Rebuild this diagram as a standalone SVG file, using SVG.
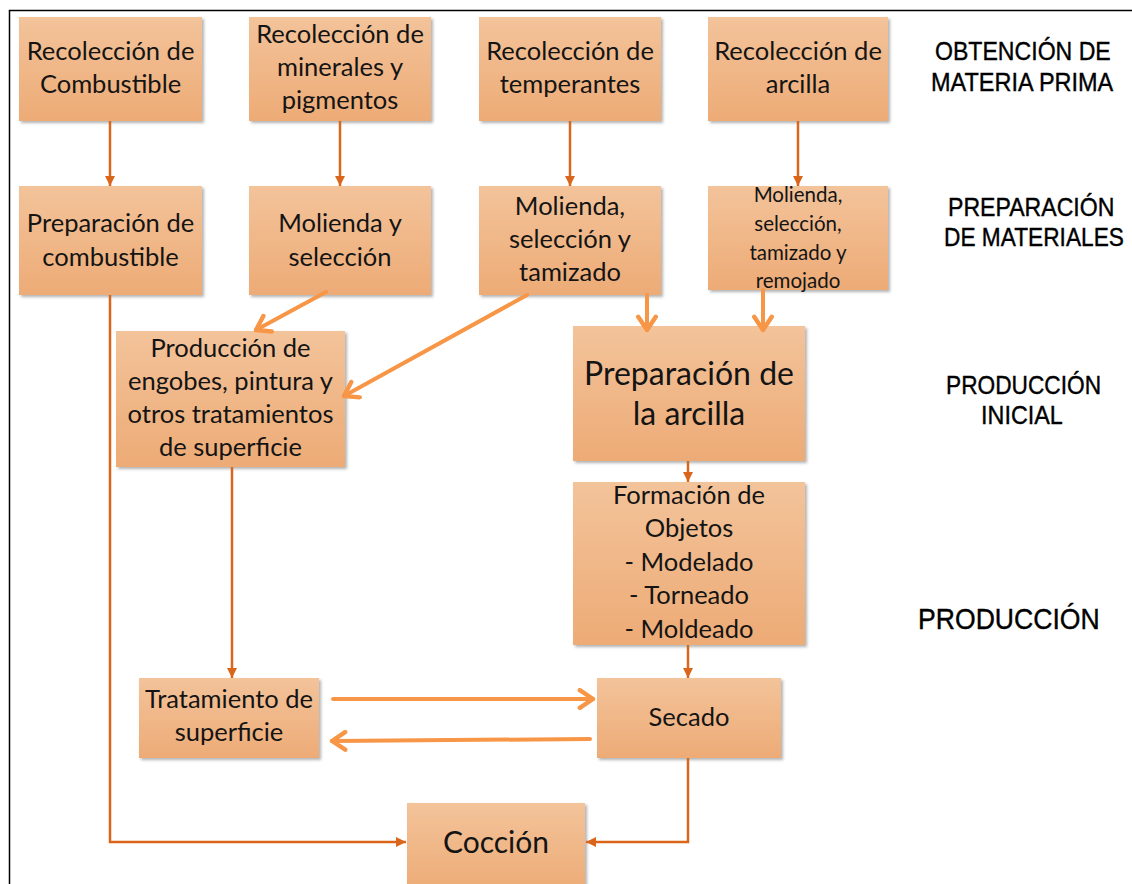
<svg xmlns="http://www.w3.org/2000/svg" width="1132" height="884" viewBox="0 0 1132 884">
<defs>
<linearGradient id="boxg" x1="0" y1="0" x2="0" y2="1">
<stop offset="0" stop-color="#F3C39A"/>
<stop offset="1" stop-color="#EDAB76"/>
</linearGradient>
<filter id="sh" x="-10%" y="-10%" width="125%" height="125%">
<feDropShadow dx="2" dy="2" stdDeviation="1.5" flood-color="#000" flood-opacity="0.3"/>
</filter>
<filter id="lsh" x="-5%" y="-200%" width="110%" height="500%">
<feDropShadow dx="1" dy="2" stdDeviation="1.2" flood-color="#000" flood-opacity="0.25"/>
</filter>
<marker id="dk" viewBox="0 0 10 10" refX="10" refY="5" markerWidth="10" markerHeight="10" markerUnits="userSpaceOnUse" orient="auto">
<path d="M0,0 L10,5 L0,10 Z" fill="#D9661A"/>
</marker>
<marker id="lt" viewBox="0 0 20 20" refX="17" refY="10" markerWidth="22" markerHeight="22" markerUnits="userSpaceOnUse" orient="auto">
<path d="M5,2 L17,10 L5,18" fill="none" stroke="#F79646" stroke-width="4" stroke-linecap="round" stroke-linejoin="round"/>
</marker>
</defs>
<style>
.box{fill:url(#boxg);filter:url(#sh);}
.t{font-family:Lato,"Open Sans",sans-serif;font-size:25.5px;fill:#141414;text-anchor:middle;}
.big{font-size:32px;}
.cc{font-size:30px;}
.sm{font-size:20.5px;}
.lab{font-family:"Liberation Sans",Arial,sans-serif;fill:#000;stroke:#000;stroke-width:0.35;}
.red{stroke:#C0504D;stroke-width:4;fill:none;filter:url(#lsh);}
.dk{stroke:#D9661A;stroke-width:2.5;fill:none;marker-end:url(#dk);}
.lt{stroke:#F79646;stroke-width:4;fill:none;stroke-linecap:round;marker-end:url(#lt);}
</style>
<rect width="1132" height="884" fill="#fff"/>
<path d="M9.5,884 V10.5 H1132" fill="none" stroke="#000" stroke-width="1.5"/>

<g id="phase-lines">
<line class="red" x1="30" y1="136" x2="1083" y2="136"/>
<line class="red" x1="28" y1="311" x2="1083" y2="311"/>
<line class="red" x1="28" y1="479" x2="1080" y2="479" stroke-dasharray="12,6"/>
</g>

<g id="labels">
<text class="lab" transform="translate(935,60) scale(1,1.12)" style="font-size:23.1px">OBTENCIÓN DE</text>
<text class="lab" transform="translate(931,91) scale(1,1.12)" style="font-size:23.5px">MATERIA PRIMA</text>
<text class="lab" transform="translate(948,216) scale(1,1.12)" style="font-size:23.1px">PREPARACIÓN</text>
<text class="lab" transform="translate(944,246) scale(1,1.12)" style="font-size:22.7px">DE MATERIALES</text>
<text class="lab" transform="translate(946,394) scale(1,1.12)" style="font-size:22.7px">PRODUCCIÓN</text>
<text class="lab" transform="translate(981,424) scale(1,1.12)" style="font-size:23.4px">INICIAL</text>
<text class="lab" transform="translate(918,629) scale(1,1.12)" style="font-size:26.6px">PRODUCCIÓN</text>
</g>

<g id="n-rec-comb"><rect class="box" x="19" y="17" width="183" height="104"/>
<text class="t" x="110.5" y="60">Recolección de</text><text class="t" x="110.5" y="93">Combustible</text></g>
<g id="n-rec-min"><rect class="box" x="249" y="17" width="182" height="104"/>
<text class="t" x="340" y="43">Recolección de</text><text class="t" x="340" y="76">minerales y</text><text class="t" x="340" y="109">pigmentos</text></g>
<g id="n-rec-temp"><rect class="box" x="479" y="17" width="182" height="104"/>
<text class="t" x="570" y="60">Recolección de</text><text class="t" x="570" y="93">temperantes</text></g>
<g id="n-rec-arc"><rect class="box" x="708" y="17" width="180" height="104"/>
<text class="t" x="798" y="60">Recolección de</text><text class="t" x="798" y="93">arcilla</text></g>

<g id="n-prep-comb"><rect class="box" x="19" y="186" width="183" height="109"/>
<text class="t" x="110.5" y="232">Preparación de</text><text class="t" x="110.5" y="266">combustible</text></g>
<g id="n-mol-sel"><rect class="box" x="249" y="186" width="182" height="109"/>
<text class="t" x="340" y="232">Molienda y</text><text class="t" x="340" y="266">selección</text></g>
<g id="n-mol-tam"><rect class="box" x="479" y="186" width="182" height="109"/>
<text class="t" x="570" y="215">Molienda,</text><text class="t" x="570" y="248">selección y</text><text class="t" x="570" y="281">tamizado</text></g>
<g id="n-mol-rem"><rect class="box" x="708" y="186" width="180" height="104"/>
<text class="t sm" x="798" y="202">Molienda,</text><text class="t sm" x="798" y="231">selección,</text><text class="t sm" x="798" y="260">tamizado y</text><text class="t sm" x="798" y="288">remojado</text></g>

<g id="n-engobes"><rect class="box" x="116" y="331" width="229" height="136"/>
<text class="t" x="230.5" y="357">Producción de</text><text class="t" x="230.5" y="390">engobes, pintura y</text><text class="t" x="230.5" y="423">otros tratamientos</text><text class="t" x="230.5" y="456">de superficie</text></g>
<g id="n-prep-arc"><rect class="box" x="573" y="326" width="232" height="135"/>
<text class="t big" x="689" y="385">Preparación de</text><text class="t big" x="689" y="425">la arcilla</text></g>
<g id="n-formacion"><rect class="box" x="573" y="482" width="232" height="163"/>
<text class="t" x="689" y="504">Formación de</text><text class="t" x="689" y="537">Objetos</text><text class="t" x="689" y="571">- Modelado</text><text class="t" x="689" y="604">- Torneado</text><text class="t" x="689" y="638">- Moldeado</text></g>
<g id="n-tratamiento"><rect class="box" x="139" y="678" width="180" height="80"/>
<text class="t" x="229" y="708">Tratamiento de</text><text class="t" x="229" y="741">superficie</text></g>
<g id="n-secado"><rect class="box" x="597" y="678" width="184" height="80"/>
<text class="t" x="689" y="726">Secado</text></g>
<g id="n-coccion"><rect class="box" x="407" y="803" width="178" height="90"/>
<text class="t cc" x="496" y="853">Cocción</text></g>

<g id="connectors">
<line class="dk" x1="110" y1="121" x2="110" y2="186"/>
<line class="dk" x1="340" y1="121" x2="340" y2="186"/>
<line class="dk" x1="570" y1="121" x2="570" y2="186"/>
<line class="dk" x1="798" y1="121" x2="798" y2="186"/>
<line class="dk" x1="688" y1="461" x2="688" y2="482"/>
<line class="dk" x1="688" y1="645" x2="688" y2="678"/>
<line class="dk" x1="232" y1="467" x2="232" y2="678"/>
<path class="dk" d="M110,295 V842 H406"/>
<path class="dk" d="M688,758 V842 H586"/>
<line class="lt" x1="326" y1="292" x2="256" y2="330"/>
<line class="lt" x1="527" y1="295" x2="344" y2="396"/>
<line class="lt" x1="647" y1="295" x2="647" y2="330"/>
<line class="lt" x1="763" y1="290" x2="763" y2="330"/>
<line class="lt" x1="333" y1="699" x2="593" y2="699"/>
<line class="lt" x1="590" y1="739" x2="332" y2="741"/>
</g>
</svg>
